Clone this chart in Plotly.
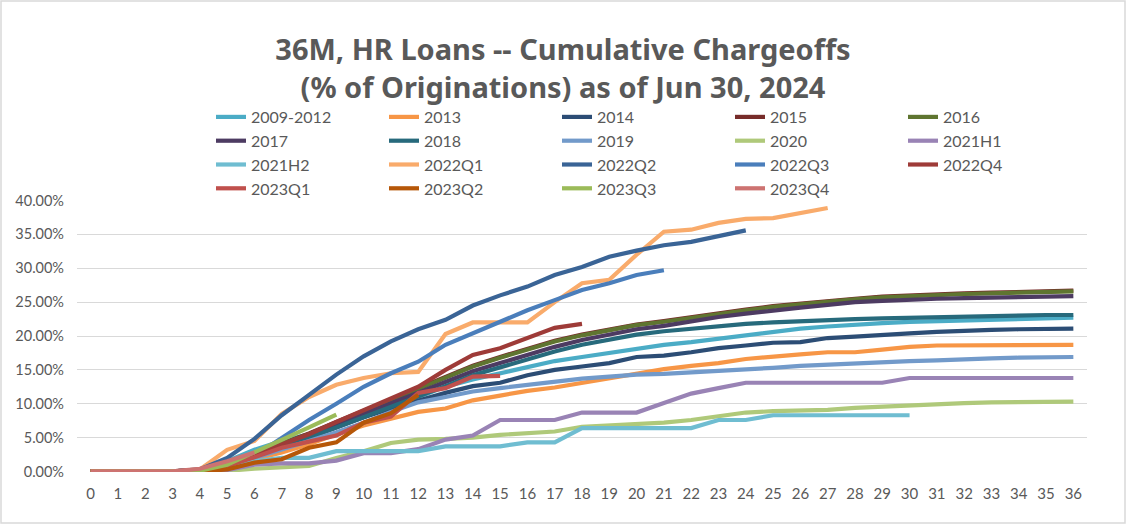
import plotly.graph_objects as go

months = list(range(37))
month_labels = [str(m) for m in months]
y_ticks = [0.0, 0.05, 0.10, 0.15, 0.20, 0.25, 0.30, 0.35, 0.40]

s_2009_2012 = [0, 0, 0, 0, 0.2, 1.5, 3.2, 4.5, 5.5, 6.7, 8.0, 9.5, 11.0, 12.5, 13.6, 14.5, 15.5, 16.3, 16.9, 17.5, 18.2, 18.7, 19.1, 19.6, 20.1, 20.6, 21.1, 21.4, 21.7, 21.9, 22.1, 22.2, 22.3, 22.4, 22.5, 22.6, 22.7]
s_2013 = [0, 0, 0, 0, 0.1, 0.8, 1.8, 2.8, 4.0, 5.5, 6.8, 7.8, 8.8, 9.3, 10.5, 11.2, 11.9, 12.4, 13.1, 13.7, 14.5, 15.1, 15.6, 16.0, 16.6, 17.0, 17.3, 17.6, 17.6, 18.0, 18.4, 18.6, 18.6, 18.7, 18.7, 18.7, 18.7]
s_2014 = [0, 0, 0, 0, 0.2, 1.0, 2.2, 3.5, 5.0, 6.5, 8.0, 9.3, 10.5, 11.6, 12.6, 13.1, 14.2, 15.0, 15.5, 16.0, 16.9, 17.1, 17.6, 18.2, 18.6, 19.0, 19.1, 19.7, 19.9, 20.2, 20.4, 20.6, 20.8, 20.9, 21.0, 21.0, 21.1]
s_2015 = [0, 0, 0, 0, 0.2, 1.2, 2.6, 4.1, 5.6, 7.3, 8.9, 10.6, 12.3, 13.9, 15.6, 16.9, 18.1, 19.3, 20.2, 21.0, 21.7, 22.2, 22.8, 23.4, 23.9, 24.4, 24.8, 25.2, 25.5, 25.8, 26.0, 26.2, 26.3, 26.4, 26.5, 26.6, 26.7]
s_2016 = [0, 0, 0, 0, 0.2, 1.2, 2.6, 4.0, 5.5, 7.2, 8.8, 10.5, 12.2, 13.8, 15.5, 16.8, 18.0, 19.2, 20.1, 20.9, 21.6, 22.1, 22.7, 23.3, 23.8, 24.3, 24.7, 25.1, 25.4, 25.7, 25.9, 26.1, 26.2, 26.3, 26.4, 26.5, 26.6]
s_2017 = [0, 0, 0, 0, 0.2, 1.1, 2.4, 3.8, 5.3, 6.9, 8.5, 10.1, 11.7, 13.2, 14.8, 16.0, 17.2, 18.4, 19.4, 20.2, 21.0, 21.5, 22.2, 22.8, 23.3, 23.8, 24.2, 24.6, 25.0, 25.2, 25.4, 25.5, 25.6, 25.7, 25.8, 25.9, 25.9]
s_2018 = [0, 0, 0, 0, 0.2, 1.1, 2.3, 3.6, 5.0, 6.5, 8.0, 9.5, 11.0, 12.6, 14.2, 15.4, 16.6, 17.7, 18.7, 19.5, 20.2, 20.7, 21.1, 21.5, 21.8, 22.0, 22.2, 22.4, 22.5, 22.6, 22.7, 22.8, 22.9, 22.9, 23.0, 23.1, 23.1]
s_2019 = [0, 0, 0, 0, 0.2, 1.0, 2.0, 3.2, 4.5, 5.8, 7.2, 8.8, 10.2, 11.0, 11.8, 12.3, 12.8, 13.2, 13.7, 14.0, 14.3, 14.4, 14.6, 14.9, 15.1, 15.3, 15.6, 15.8, 16.0, 16.2, 16.3, 16.4, 16.6, 16.7, 16.8, 16.9, 16.9]
s_2020 = [0, 0, 0, 0, 0, 0.1, 0.4, 0.6, 0.8, 2.0, 3.0, 4.2, 4.7, 4.8, 5.0, 5.4, 5.7, 5.9, 6.6, 6.8, 7.0, 7.2, 7.6, 8.2, 8.7, 8.9, 9.0, 9.1, 9.4, 9.6, 9.8, 9.9, 10.1, 10.2, 10.2, 10.3, 10.3]
s_2021h1 = [0, 0, 0, 0, 0, 0.2, 1.0, 1.2, 1.2, 1.6, 2.7, 2.7, 3.3, 4.7, 5.3, 7.6, 7.6, 7.6, 8.7, 8.7, 8.7, 10.1, 11.5, 12.3, 13.1, 13.1, 13.1, 13.1, 13.1, 13.1, 13.8, 13.8, 13.8, 13.8, 13.8, 13.8, 13.8]
s_2021h2 = [0, 0, 0, 0, 0.1, 0.7, 1.5, 2.0, 2.0, 3.0, 3.0, 3.0, 3.0, 3.7, 3.7, 3.7, 4.3, 4.3, 6.4, 6.4, 6.4, 6.4, 6.4, 7.6, 7.6, 8.3, 8.3, 8.3, 8.3, 8.3, 8.3]
s_2022q1 = [0, 0, 0, 0, 0.3, 3.2, 4.5, 8.5, 11.0, 12.8, 13.8, 14.5, 14.7, 20.3, 22.0, 22.0, 22.0, 25.0, 27.8, 28.3, 32.0, 35.4, 35.7, 36.7, 37.3, 37.4, 38.2, 38.9]
s_2022q2 = [0, 0, 0, 0, 0.3, 2.0, 4.8, 8.3, 11.3, 14.3, 17.0, 19.2, 21.0, 22.4, 24.5, 26.0, 27.3, 29.0, 30.2, 31.7, 32.6, 33.4, 33.9, 34.8, 35.6]
s_2022q3 = [0, 0, 0, 0, 0.2, 0.8, 2.3, 5.0, 7.6, 10.0, 12.5, 14.5, 16.2, 18.7, 20.4, 22.0, 23.8, 25.3, 26.8, 27.8, 29.0, 29.7]
s_2022q4 = [0, 0, 0, 0, 0.2, 1.2, 2.5, 4.0, 5.5, 7.3, 9.0, 10.8, 12.5, 15.0, 17.2, 18.2, 19.7, 21.2, 21.8]
s_2023q1 = [0, 0, 0, 0, 0.2, 0.8, 2.1, 3.5, 4.4, 5.3, 7.2, 8.1, 11.6, 12.3, 14.0, 14.1]
s_2023q2 = [0, 0, 0, 0, 0, 0.3, 1.3, 1.8, 3.5, 4.3, 7.2, 8.6, 11.3]
s_2023q3 = [0, 0, 0, 0, 0.1, 1.0, 2.8, 4.7, 6.5, 8.4]
s_2023q4 = [0, 0, 0, 0, 0.4, 1.5, 2.8]

series_names = ["2009-2012", "2013", "2014", "2015", "2016", "2017", "2018", "2019", "2020",
                "2021H1", "2021H2", "2022Q1", "2022Q2", "2022Q3", "2022Q4",
                "2023Q1", "2023Q2", "2023Q3", "2023Q4"]
series_values = [s_2009_2012, s_2013, s_2014, s_2015, s_2016, s_2017, s_2018, s_2019, s_2020,
                 s_2021h1, s_2021h2, s_2022q1, s_2022q2, s_2022q3, s_2022q4,
                 s_2023q1, s_2023q2, s_2023q3, s_2023q4]
series_colors = ["#4BACC6", "#F79646", "#2C4D75", "#772C2A", "#5F7530", "#4D3B62", "#276A7C",
                 "#729ACA", "#AFC97A", "#9983B5", "#6FBDD1", "#F9AB6B", "#3A6496", "#4A7EBB",
                 "#9E3B38", "#C0504D", "#B65708", "#9BBB59", "#CD7371"]

fig = go.Figure()
for name, vals, col in zip(series_names, series_values, series_colors):
    fig.add_trace(go.Scatter(
        x=months[:len(vals)], y=[v / 100 for v in vals], name=name, mode="lines",
        line=dict(color=col, width=4.2),
    ))

W, H = 1126, 524
ml, mr, mt, mb = 77, 39, 200, 52
pw, ph = W - ml - mr, H - mt - mb

fig.update_layout(
    width=W, height=H,
    margin=dict(l=ml, r=mr, t=mt, b=mb, autoexpand=False),
    paper_bgcolor="white", plot_bgcolor="white",
    font=dict(family="Lato, Open Sans, sans-serif", color="#595959", size=15),
    title=dict(
        text="<b>36M, HR Loans -- Cumulative Chargeoffs<br>(% of Originations) as of Jun 30, 2024</b>",
        x=0.5, xanchor="center", xref="container",
        y=1 - 60 / H, yanchor="top", yref="container",
        font=dict(family="Noto Sans, Open Sans, Lato, sans-serif", size=29, color="#595959"),
    ),
    legend=dict(
        orientation="h", xref="container", yref="container",
        x=211 / W, xanchor="left", y=1 - 100 / H, yanchor="top",
        entrywidth=128, entrywidthmode="pixels",
        font=dict(size=16, color="#595959"),
        bgcolor="rgba(0,0,0,0)", traceorder="normal",
    ),
    showlegend=True,
    xaxis=dict(
        range=[-0.5, 36.5], tickmode="array", tickvals=months, ticktext=month_labels,
        showgrid=False, showline=False, zeroline=False, ticks="",
        tickfont=dict(size=15, color="#595959"), fixedrange=True, ticklabelstandoff=11,
    ),
    yaxis=dict(
        range=[-0.0008, 0.4008], tickmode="array", tickvals=y_ticks, tickformat=".2%",
        showgrid=True, gridcolor="#D9D9D9", gridwidth=1.3, zeroline=False, showline=False,
        ticks="", tickfont=dict(size=14.5, color="#595959"), fixedrange=True, ticklabelstandoff=12,
    ),
    shapes=[dict(
        type="rect", xref="paper", yref="paper",
        x0=(-ml + 1) / pw, x1=(W - ml - 1) / pw,
        y0=(-mb + 1) / ph, y1=1 + (mt - 1) / ph,
        line=dict(color="#D9D9D9", width=1.5), fillcolor="rgba(0,0,0,0)", layer="below",
    )],
)

fig.write_html("out.html", config={"displayModeBar": False},
               post_script="document.body.style.margin='0px';")
